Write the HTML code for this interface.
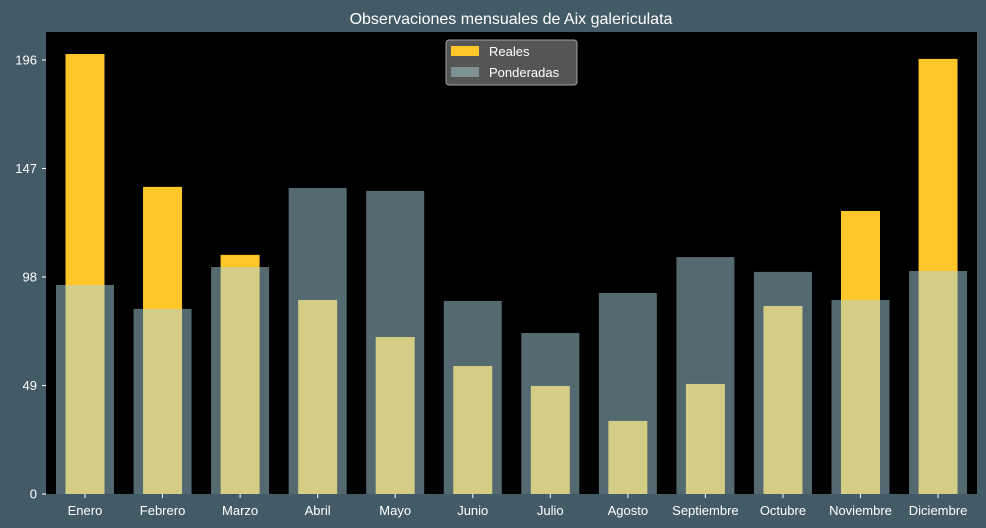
<!DOCTYPE html>
<html><head><meta charset="utf-8"><style>
body{margin:0;background:#435a67;}
svg{display:block;font-family:"Liberation Sans","DejaVu Sans",sans-serif;}
</style></head><body>
<svg id="chart" width="986" height="528">
<rect width="986" height="528" fill="#435a67"/>
<rect x="46" y="32" width="931" height="462" fill="#000"/>
<text x="511" y="24" fill="#fff" font-size="16" text-anchor="middle">Observaciones mensuales de Aix galericulata</text>
<g id="bars"></g><g id="axes"></g>
<g>
<rect x="446" y="40" width="131" height="45" rx="3" fill="#5a5a5a" stroke="#aaa" stroke-width="1" opacity="0.95"/>
<rect x="451" y="46" width="28" height="10" fill="#ffc62a"/>
<text x="489" y="56" fill="#fff" font-size="13">Reales</text>
<rect x="451" y="67" width="28" height="10" fill="#7f9195"/>
<text x="489" y="77" fill="#fff" font-size="13">Ponderadas</text>
</g>
</svg>
<script>
const categories=["Enero","Febrero","Marzo","Abril","Mayo","Junio","Julio","Agosto","Septiembre","Octubre","Noviembre","Diciembre"];
const reales=[198.7,138.7,108,87.6,70.9,57.8,48.8,33,49.7,84.9,127.8,196.5];
const ponderadas=[94.4,83.6,102.5,138.2,136.9,87.2,72.7,90.8,107,100.3,87.6,100.7];
const yTicks=[0,49,98,147,196];
const NS="http://www.w3.org/2000/svg";
const y=v=>494-v*(434/196);
const x=i=>85+i*77.55;
const bars=document.getElementById('bars'),axes=document.getElementById('axes');
function mk(tag,attrs,parent){const e=document.createElementNS(NS,tag);for(const k in attrs)e.setAttribute(k,attrs[k]);parent.appendChild(e);return e;}
categories.forEach((c,i)=>{
  const r=mk('rect',{x:x(i)-19.5,y:y(reales[i]),width:39,height:494-y(reales[i]),fill:'#ffc62a'},bars);
  
  
});
categories.forEach((c,i)=>{
  const p=mk('rect',{x:x(i)-29,y:y(ponderadas[i]),width:58,height:494-y(ponderadas[i]),fill:'#a8d4e0','fill-opacity':0.5},bars);
  
  
  const t=mk('text',{x:x(i),y:515,fill:'#fff','font-size':13,'text-anchor':'middle'},axes);
  t.textContent=c;
  
  
  const tk=mk('line',{x1:x(i),x2:x(i),y1:494,y2:498,stroke:'#fff'},axes);
  
  
});
yTicks.forEach(v=>{
  const t=mk('text',{x:37,y:y(v)+4.5,fill:'#fff','font-size':13,'text-anchor':'end'},axes);
  t.textContent=v;
  
  
  const tk=mk('line',{x1:42,x2:46,y1:y(v),y2:y(v),stroke:'#fff'},axes);
  
  
});
</script>
</body></html>
